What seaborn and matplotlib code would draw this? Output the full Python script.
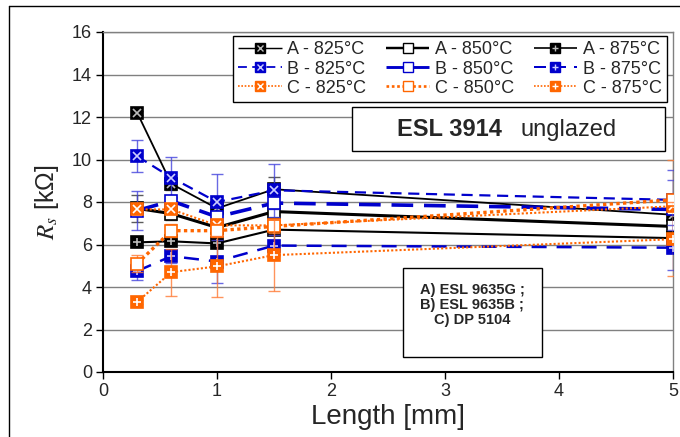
import matplotlib
matplotlib.use("Agg")
import matplotlib.pyplot as plt
from matplotlib.lines import Line2D
from matplotlib.patches import Rectangle
import seaborn as sns

# Sheet resistance vs. track length for three pastes at three firing temperatures
length_mm = [0.3, 0.6, 1.0, 1.5, 5.0]

rs_a_825 = [12.2, 8.85, 7.7, 8.6, 7.4]
rs_a_850 = [7.7, 7.45, 6.8, 7.55, 6.85]
rs_a_875 = [6.1, 6.15, 6.05, 6.7, 6.3]
rs_b_825 = [10.15, 9.15, 8.0, 8.55, 8.1]
rs_b_850 = [7.6, 8.05, 7.3, 7.95, 7.65]
rs_b_875 = [4.75, 5.45, 5.2, 5.95, 5.85]
rs_c_825 = [7.65, 7.65, 6.9, 6.9, 7.8]
rs_c_850 = [5.1, 6.65, 6.65, 6.85, 8.1]
rs_c_875 = [3.3, 4.7, 4.97, 5.5, 6.25]

err_a_825 = [0.1, 0.3, 0.3, 0.6, 0.2]
err_a_850 = [0.65, 0.3, 0.3, 0.3, 0.2]
err_a_875 = [0.1, 0.1, 0.1, 0.1, 0.1]
err_b_825 = [0.75, 0.95, 1.3, 1.25, 1.4]
err_b_850 = [0.9, 0.2, 0.3, 0.3, 1.4]
err_b_875 = [0.4, 0.3, 1.0, 0.5, 1.05]
err_c_825 = [0.2, 0.2, 0.2, 0.2, 0.2]
err_c_850 = [0.4, 0.3, 0.3, 0.3, 1.9]
err_c_875 = [0.1, 1.1, 1.45, 1.7, 1.75]

series_labels = ["A - 825°C", "A - 850°C", "A - 875°C",
                 "B - 825°C", "B - 850°C", "B - 875°C",
                 "C - 825°C", "C - 850°C", "C - 875°C"]
y_ticks = [0, 2, 4, 6, 8, 10, 12, 14, 16]
x_ticks = [0, 1, 2, 3, 4, 5]

sns.set_style("white")
plt.rcParams["font.family"] = ["Liberation Sans", "DejaVu Sans"]
plt.rcParams["mathtext.fontset"] = "stix"

BLACK = "#000000"
BLUE = "#0000CC"
ORANGE = "#FF6600"

paste_colors = {"A": BLACK, "B": BLUE, "C": ORANGE}
paste_err = {"A": "#333333", "B": "#4444DD", "C": "#FF7A33"}
paste_style = {
    "A": [(0, ()), (0, ()), (0, ())],
    "B": [(0, (5, 3)), (0, (6, 3)), (0, (6, 4))],
    "C": [(0, (1, 1)), (0, (1, 1)), (0, (1, 1))],
}
paste_lw = {"A": [1.3, 2.2, 1.5], "B": [1.6, 2.6, 1.8], "C": [1.5, 2.4, 1.5]}
inner_glyph = ["x", None, "+"]
glyph_tint = {"A": "#BBBBBB", "B": "#CCCCFF", "C": "#FFFFFF"}

values = [rs_a_825, rs_a_850, rs_a_875, rs_b_825, rs_b_850, rs_b_875,
          rs_c_825, rs_c_850, rs_c_875]
errors = [err_a_825, err_a_850, err_a_875, err_b_825, err_b_850, err_b_875,
          err_c_825, err_c_850, err_c_875]

fig = plt.figure(figsize=(6.8, 4.37), dpi=100)
ax = fig.add_axes([103 / 680, 65 / 437, (673 - 103) / 680, (372 - 32) / 437])

handles = {}
for i, (label, vals, errs) in enumerate(zip(series_labels, values, errors)):
    paste = label[0]
    k = i % 3
    color = paste_colors[paste]
    z = 3 + i * 0.3
    face = "white" if k == 1 else color
    ax.errorbar(length_mm, vals, yerr=errs, fmt="none", ecolor=paste_err[paste],
                elinewidth=1.0, capsize=4, capthick=1.0, alpha=0.8, zorder=z)
    sns.lineplot(x=length_mm, y=vals, ax=ax, color=color, sort=False,
                 errorbar=None, linewidth=paste_lw[paste][k],
                 linestyle=paste_style[paste][k], marker="s", markersize=8,
                 markerfacecolor=face, markeredgecolor=color,
                 markeredgewidth=1.2, zorder=z + 0.1)
    if inner_glyph[k]:
        ax.plot(length_mm, vals, ls="none", marker=inner_glyph[k], markersize=6,
                markeredgewidth=1.2, color=glyph_tint[paste], zorder=z + 0.2)
    line_h = Line2D([], [], color=color, lw=paste_lw[paste][k] * 0.8,
                    linestyle=paste_style[paste][k], marker="s", markersize=6.5,
                    markerfacecolor=face, markeredgecolor=color, markeredgewidth=1)
    if inner_glyph[k]:
        glyph_h = Line2D([], [], ls="none", marker=inner_glyph[k], markersize=4.5,
                         markeredgewidth=1, color=glyph_tint[paste])
        handles[label] = (line_h, glyph_h)
    else:
        handles[label] = line_h

ax.set_xlim(0, 5)
ax.set_ylim(0, 16)
ax.set_xticks(x_ticks)
ax.set_yticks(y_ticks)
ax.tick_params(axis="both", labelsize=13, direction="out", length=5, width=1,
               color="black", pad=3, left=True, bottom=True)
ax.yaxis.grid(True, color="#808080", lw=1)
ax.xaxis.grid(False)
ax.set_axisbelow(True)
for side in ["left", "bottom"]:
    ax.spines[side].set_color("black")
    ax.spines[side].set_linewidth(1.5)
for side in ["right", "top"]:
    ax.spines[side].set_color("#808080")
    ax.spines[side].set_linewidth(1)

ax.set_xlabel("Length [mm]", fontsize=20, labelpad=3)
ax.set_ylabel(r"$\mathit{R}_{s}$ [kΩ]", fontsize=18, labelpad=8)

# legend: one column per firing temperature
order = ["A - 825°C", "B - 825°C", "C - 825°C",
         "A - 850°C", "B - 850°C", "C - 850°C",
         "A - 875°C", "B - 875°C", "C - 875°C"]
leg = fig.legend([handles[o] for o in order], order, ncol=3, loc="upper left",
                 bbox_to_anchor=(233 / 680, 1 - 36 / 437), fontsize=13,
                 frameon=True, fancybox=False, framealpha=1, edgecolor="black",
                 handlelength=2.4, handletextpad=0.3, columnspacing=1.1,
                 labelspacing=0.12, borderpad=0.3, borderaxespad=0)
leg.get_frame().set_linewidth(1)
leg.set_zorder(20)

W, H = 680, 437


def fig_box(x0, y0, x1, y1):
    fig.add_artist(Rectangle((x0 / W, 1 - y1 / H), (x1 - x0) / W, (y1 - y0) / H,
                             transform=fig.transFigure, facecolor="white",
                             edgecolor="black", lw=1, zorder=15))


fig_box(352, 107, 665, 151)
fig.text(397 / W, 1 - 136 / H, "ESL 3914", fontsize=17, fontweight="bold",
         ha="left", va="baseline", zorder=16)
fig.text(520 / W, 1 - 136 / H, "unglazed", fontsize=17,
         ha="left", va="baseline", zorder=16)

fig_box(403, 268, 542, 357)
fig.text(472 / W, 1 - 305 / H, "A) ESL 9635G ;\nB) ESL 9635B ;\nC) DP 5104",
         fontsize=10.5, fontweight="bold", ha="center", va="center",
         multialignment="center", linespacing=1.1, zorder=16)

# chart-area frame
fig.add_artist(Line2D([9 / W, 1], [1 - 6 / H, 1 - 6 / H], transform=fig.transFigure,
                      color="black", lw=1))
fig.add_artist(Line2D([9 / W, 9 / W], [0, 1 - 6 / H], transform=fig.transFigure,
                      color="black", lw=1))

fig.savefig("out.png", dpi=100)
